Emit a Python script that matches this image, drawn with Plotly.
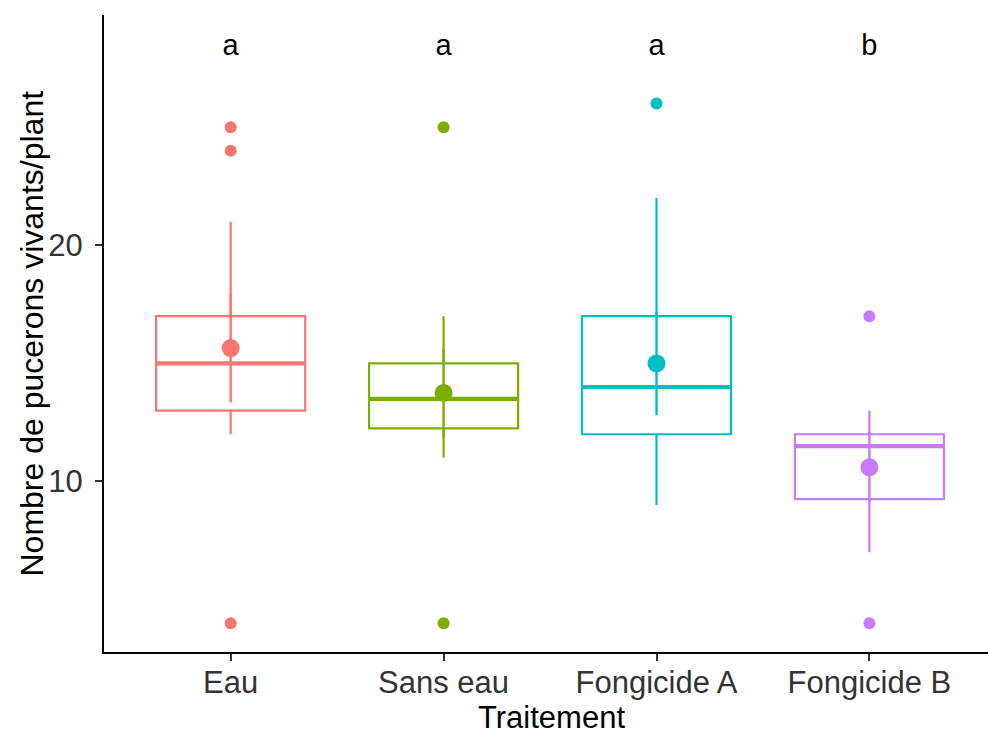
import plotly.graph_objects as go

categories = ["Eau", "Sans eau", "Fongicide A", "Fongicide B"]
q1 = [13, 12.25, 12, 9.25]
medians = [15, 13.5, 14, 11.5]
q3 = [17, 15, 17, 12]
lower_whisker = [12, 11, 9, 7]
upper_whisker = [21, 17, 22, 13]
means = [15.65, 13.75, 15.0, 10.6]
ci = [2.3, 1.85, 2.2, 1.5]
outliers = [[25, 24, 4], [25, 4], [26], [17, 4]]
letters = ["a", "a", "a", "b"]
colors = ["#F8766D", "#7CAE00", "#00BFC4", "#C77CFF"]

BOX_W = 0.7
FONT = "Liberation Sans, Arial, sans-serif"
FS = 31

fig = go.Figure()
for i, cat in enumerate(categories):
    c = colors[i]
    fig.add_trace(go.Box(
        x=[i], q1=[q1[i]], median=[medians[i]], q3=[q3[i]],
        lowerfence=[lower_whisker[i]], upperfence=[upper_whisker[i]],
        width=BOX_W, whiskerwidth=0, boxpoints=False,
        line=dict(color=c, width=2.2), fillcolor="rgba(255,255,255,0)",
        showlegend=False, hoverinfo="skip"))
    # thicker median
    fig.add_trace(go.Scatter(
        x=[i - BOX_W / 2, i + BOX_W / 2], y=[medians[i], medians[i]],
        mode="lines", line=dict(color=c, width=4.2),
        showlegend=False, hoverinfo="skip"))
    # mean +/- ci
    fig.add_trace(go.Scatter(
        x=[i], y=[means[i]], mode="markers",
        marker=dict(color=c, size=18),
        error_y=dict(type="data", array=[ci[i]], color=c, thickness=2.4, width=0),
        showlegend=False))
    # outliers
    fig.add_trace(go.Scatter(
        x=[i] * len(outliers[i]), y=outliers[i], mode="markers",
        marker=dict(color=c, size=12), showlegend=False))

fig.add_trace(go.Scatter(
    x=list(range(len(categories))), y=[28.35] * len(categories),
    mode="text", text=letters, textposition="middle center",
    textfont=dict(family=FONT, size=29, color="black"), showlegend=False))

fig.update_layout(
    width=988, height=734,
    margin=dict(l=104, r=0, t=15, b=82),
    plot_bgcolor="white", paper_bgcolor="white",
    font=dict(family=FONT),
    xaxis=dict(
        range=[-0.595, 3.557], tickmode="array",
        tickvals=list(range(len(categories))), ticktext=categories,
        showgrid=False, zeroline=False, showline=True, linecolor="black", linewidth=2,
        ticks="outside", ticklen=7, tickwidth=1.6, tickcolor="#333333",
        ticklabelstandoff=-5,
        tickfont=dict(size=FS, color="#333333", family=FONT)),
    yaxis=dict(
        range=[2.78, 29.75], tickvals=[10, 20],
        showgrid=False, zeroline=False, showline=True, linecolor="black", linewidth=2,
        ticks="outside", ticklen=7, tickwidth=1.6, tickcolor="#333333",
        ticklabelstandoff=6,
        tickfont=dict(size=FS, color="#333333", family=FONT)),
    annotations=[
        dict(text="Traitement", xref="paper", yref="paper", x=(551 - 104) / 884, y=0,
             yshift=-65, xanchor="center", yanchor="middle", showarrow=False,
             font=dict(size=FS, color="black", family=FONT)),
        dict(text="Nombre de pucerons vivants/plant", xref="paper", yref="paper",
             x=0, xshift=-73, y=0.5, xanchor="center", yanchor="middle",
             textangle=-90, showarrow=False,
             font=dict(size=32, color="black", family=FONT)),
    ],
)

fig.write_html("out.html")
